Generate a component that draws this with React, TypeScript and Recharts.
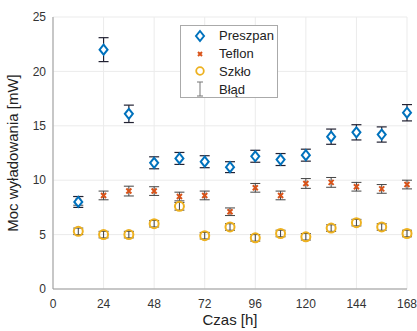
import React from 'react';
import { ScatterChart, Scatter, XAxis, YAxis, CartesianGrid, ErrorBar } from 'recharts';

const hours = [12, 24, 36, 48, 60, 72, 84, 96, 108, 120, 132, 144, 156, 168];
const preszpan = [8.0, 22.0, 16.1, 11.6, 12.0, 11.7, 11.2, 12.2, 11.9, 12.3, 14.0, 14.4, 14.2, 16.2];
const preszpanErr = [0.5, 1.1, 0.8, 0.55, 0.55, 0.55, 0.5, 0.55, 0.55, 0.55, 0.7, 0.7, 0.7, 0.75];
const teflon = [8.1, 8.6, 9.0, 9.0, 8.5, 8.6, 7.1, 9.3, 8.6, 9.7, 9.8, 9.4, 9.2, 9.6];
const teflonErr = [0.4, 0.4, 0.45, 0.4, 0.4, 0.4, 0.35, 0.4, 0.4, 0.45, 0.45, 0.4, 0.4, 0.4];
const szklo = [5.3, 5.0, 5.0, 6.0, 7.6, 4.9, 5.7, 4.7, 5.1, 4.8, 5.6, 6.1, 5.7, 5.1];
const szkloErr = [0.3, 0.3, 0.3, 0.3, 0.35, 0.3, 0.3, 0.3, 0.3, 0.3, 0.3, 0.3, 0.3, 0.3];
const xTicks = [0, 24, 48, 72, 96, 120, 144, 168];
const yTicks = [0, 5, 10, 15, 20, 25];
const legendNames = ['Preszpan', 'Teflon', 'Szkło', 'Błąd'];

const BLUE = '#0072BD';
const RED = '#D95319';
const YELLOW = '#EDB120';
const ERR = '#444';
const FONT = '"Liberation Sans", Arial, sans-serif';

const build = (ys: number[], es: number[]) => hours.map((h, i) => ({ x: h, y: ys[i], err: es[i] }));
const dPres = build(preszpan, preszpanErr);
const dTef = build(teflon, teflonErr);
const dSzk = build(szklo, szkloErr);

const Diamond = (p: any) => {
  const { cx, cy } = p;
  if (cx == null || cy == null) return null;
  return <path d={`M${cx},${cy - 5} L${cx + 4},${cy} L${cx},${cy + 5} L${cx - 4},${cy} Z`} fill="#fff" stroke={BLUE} strokeWidth={2} />;
};
const Cross = (p: any) => {
  const { cx, cy } = p;
  if (cx == null || cy == null) return null;
  const s = 2.5;
  return <path d={`M${cx - s},${cy - s} L${cx + s},${cy + s} M${cx - s},${cy + s} L${cx + s},${cy - s}`} stroke={RED} strokeWidth={2} fill="none" />;
};
const Circ = (p: any) => {
  const { cx, cy } = p;
  if (cx == null || cy == null) return null;
  return <circle cx={cx} cy={cy} r={4.5} fill="none" stroke={YELLOW} strokeWidth={2} />;
};

const icons = [
  <svg width={12} height={14}><path d="M6,2 L10,7 L6,12 L2,7 Z" fill="#fff" stroke={BLUE} strokeWidth={2} /></svg>,
  <svg width={12} height={14}><path d="M4,5 L8,9 M4,9 L8,5" stroke={RED} strokeWidth={2} /></svg>,
  <svg width={12} height={14}><circle cx={6} cy={7} r={3.8} fill="none" stroke={YELLOW} strokeWidth={1.8} /></svg>,
  <svg width={12} height={16}><path d="M3,1 L9,1 M6,1 L6,15 M3,15 L9,15" stroke="#777" strokeWidth={1} /></svg>,
];

const LegendBox = () => (
  <div style={{ position: 'absolute', left: 180, top: 25, border: '1px solid #aaa', background: '#fff', width: 98, height: 73, fontFamily: FONT, fontSize: 13, color: '#222', boxSizing: 'border-box', padding: '1px 0 0 0' }}>
    {legendNames.map((n, i) => (
      <div key={n} style={{ display: 'flex', alignItems: 'center', height: 17.8 }}>
        <div style={{ width: 38, display: 'flex', justifyContent: 'center' }}>{icons[i]}</div>
        <span>{n}</span>
      </div>
    ))}
  </div>
);

export default function App() {
  return (
    <div style={{ position: 'absolute', left: 0, top: 0, width: 417, height: 331, background: '#fff' }}>
      <ScatterChart width={417} height={331} margin={{ top: 17, right: 10, bottom: 12, left: 0 }}>
        <CartesianGrid stroke="#ebebeb" horizontal vertical />
        <XAxis
          type="number"
          dataKey="x"
          domain={[0, 168]}
          ticks={xTicks}
          interval={0}
          height={30}
          stroke="#999"
          tickLine={false}
          tickSize={0}
          tickMargin={10}
          tick={{ fill: '#333', fontSize: 12, fontFamily: FONT }}
          label={{ value: 'Czas [h]', position: 'insideBottom', offset: -6, fill: '#222', fontSize: 15, fontFamily: FONT }}
        />
        <YAxis
          type="number"
          dataKey="y"
          domain={[0, 25]}
          ticks={yTicks}
          interval={0}
          width={53}
          stroke="#999"
          tickLine={false}
          tickSize={0}
          tickMargin={7}
          tick={{ fill: '#333', fontSize: 12, fontFamily: FONT }}
          label={{ value: 'Moc wyładowania [mW]', angle: -90, position: 'insideLeft', offset: 13, style: { textAnchor: 'middle' }, fill: '#222', fontSize: 15, fontFamily: FONT }}
        />
        <Scatter name="Szkło" data={dSzk} shape={Circ} isAnimationActive={false}>
          <ErrorBar dataKey="err" direction="y" width={5} stroke={ERR} strokeWidth={1} />
        </Scatter>
        <Scatter name="Teflon" data={dTef} shape={Cross} isAnimationActive={false}>
          <ErrorBar dataKey="err" direction="y" width={5} stroke={ERR} strokeWidth={1} />
        </Scatter>
        <Scatter name="Preszpan" data={dPres} shape={Diamond} isAnimationActive={false}>
          <ErrorBar dataKey="err" direction="y" width={5} stroke="#223" strokeWidth={1.2} />
        </Scatter>
      </ScatterChart>
      <LegendBox />
    </div>
  );
}
